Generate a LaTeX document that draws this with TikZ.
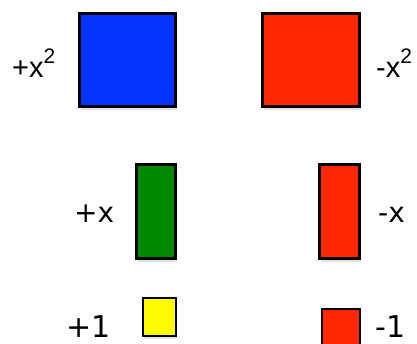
\documentclass[tikz,border=0pt]{standalone}
\usepackage{fontspec}
\setmainfont{Liberation Sans}
\newfontfamily\lucfont{DejaVu Sans}
\usetikzlibrary{shadows}
\definecolor{tblue}{RGB}{4,51,255}
\definecolor{tred}{RGB}{255,38,0}
\definecolor{tgreen}{RGB}{0,135,0}
\definecolor{tyellow}{RGB}{255,251,0}
\newcommand{\sqsup}{\raisebox{14pt}{\fontsize{21}{21}\selectfont 2}}
\tikzset{
  tile/.style={draw=black, inner sep=0pt, outer sep=0pt,
    drop shadow={opacity=0.22, shadow xshift=1pt, shadow yshift=-3pt}},
  bigtile/.style={tile, line width=3pt},
  smalltile/.style={tile, line width=1.6pt},
  lab/.style={inner sep=0pt, anchor=base west, font=\fontsize{29}{29}\selectfont},
  lab2/.style={inner sep=0pt, anchor=base west, font=\lucfont\fontsize{28}{28}\selectfont},
  lab3/.style={inner sep=0pt, anchor=base west, font=\lucfont\fontsize{30}{30}\selectfont},
}
\begin{document}
\begin{tikzpicture}[x=1pt,y=-1pt]
\useasboundingbox (0,0) rectangle (417,343);
\clip (0,0) rectangle (417,343);
\node[bigtile, fill=tblue, minimum width=96pt, minimum height=93pt] (px2) at (127.5,60) {};
\node[bigtile, fill=tred, minimum width=97pt, minimum height=93pt] (mx2) at (311,60) {};
\node[bigtile, fill=tgreen, minimum width=39pt, minimum height=94pt] (px) at (156,211.5) {};
\node[bigtile, fill=tred, minimum width=40pt, minimum height=94pt] (mx) at (339.5,211.5) {};
\node[smalltile, fill=tyellow, minimum width=33.5pt, minimum height=38.5pt] (p1) at (159.5,317) {};
\node[smalltile, fill=tred, minimum width=38.5pt, minimum height=40pt] (m1) at (341,329) {};
\node[lab] (lpx2) at (12,77) {+x\sqsup};
\node[lab] (lmx2) at (376,77) {-x\sqsup};
\node[lab2] (lpx) at (74,222) {+x};
\node[lab2] (lmx) at (378,222) {-x};
\node[lab3] (lp1) at (66,337) {+1};
\node[lab3] (lm1) at (375,337) {-1};
\end{tikzpicture}
\end{document}
